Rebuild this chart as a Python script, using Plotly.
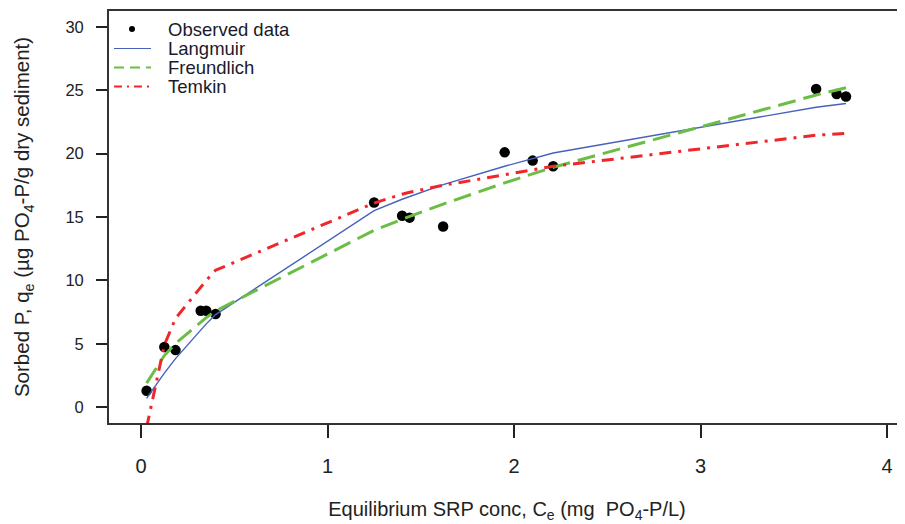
import plotly.graph_objects as go

# Observed equilibrium data
ce_obs = [0.03, 0.125, 0.185, 0.32, 0.35, 0.40, 1.25, 1.40, 1.44, 1.62, 1.95, 2.10, 2.21, 3.62, 3.73, 3.78]
qe_obs = [1.3, 4.75, 4.5, 7.6, 7.6, 7.35, 16.15, 15.1, 14.95, 14.25, 20.1, 19.45, 19.0, 25.1, 24.7, 24.5]

# Model curves evaluated at the observed concentrations
q_langmuir = [0.69, 2.69, 3.83, 6.11, 6.57, 7.30, 15.5, 16.4, 16.6, 17.55, 19.0, 19.6, 20.05, 23.66, 23.86, 23.95]
q_freundlich = [1.9, 4.07, 5.02, 6.73, 7.06, 7.59, 13.95, 14.82, 15.04, 16.02, 17.69, 18.41, 18.92, 24.62, 25.02, 25.2]
q_temkin = [-1.6, 4.9, 7.0, 9.5, 10.0, 10.8, 16.1, 16.8, 16.95, 17.5, 18.35, 18.75, 19.0, 21.45, 21.55, 21.6]

x_ticks = [0, 1, 2, 3, 4]
y_ticks = [0, 5, 10, 15, 20, 25, 30]

legend_labels = ["Observed data", "Langmuir", "Freundlich", "Temkin"]

BLUE = "#4662bd"
GREEN = "#6cbd45"
RED = "#f0262a"

fig = go.Figure()
fig.add_trace(go.Scatter(x=ce_obs, y=qe_obs, mode="markers",
                         marker=dict(color="black", size=10.5), name=legend_labels[0], showlegend=False))
fig.add_trace(go.Scatter(x=ce_obs, y=q_langmuir, mode="lines",
                         line=dict(color=BLUE, width=1.4), name=legend_labels[1], showlegend=False))
fig.add_trace(go.Scatter(x=ce_obs, y=q_freundlich, mode="lines",
                         line=dict(color=GREEN, width=3, dash="18px,8px"), name=legend_labels[2], showlegend=False))
fig.add_trace(go.Scatter(x=ce_obs, y=q_temkin, mode="lines",
                         line=dict(color=RED, width=3, dash="12px,7px,3px,7px"), name=legend_labels[3], showlegend=False))

# Page has an 8px body margin; plot area in page pixels:
OFF = 8
L, R, T, B = 109, 905, 11, 423
W, H = R - L, B - T
FIG_W, FIG_H = 905 - OFF, 524 - OFF


def px(x):
    return (x - L) / W


def py(y):
    return (B - y) / H


shapes = []
annotations = []
# legend: dot + three line samples + labels
shapes.append(dict(type="circle", xref="paper", yref="paper",
                   x0=px(129), x1=px(135), y0=py(32), y1=py(26),
                   fillcolor="black", line=dict(color="black", width=0)))
row_y = [29.5, 48.5, 67.5, 86.5]
styles = [None,
          dict(color=BLUE, width=1.2),
          dict(color=GREEN, width=2, dash="10px,6px"),
          dict(color=RED, width=1.8, dash="8px,5px,2px,5px")]
for i, lab in enumerate(legend_labels):
    if styles[i] is not None:
        shapes.append(dict(type="line", xref="paper", yref="paper",
                           x0=px(114), x1=px(151), y0=py(row_y[i]), y1=py(row_y[i]),
                           line=styles[i]))
    annotations.append(dict(text=lab, xref="paper", yref="paper",
                            x=px(166), y=py(row_y[i]), xanchor="left", yanchor="middle",
                            showarrow=False, font=dict(size=18.5, color="#1a1a2a",
                                                       family="Liberation Sans, Arial")))

NB = "\u00a0"
fig.update_layout(
    width=FIG_W, height=FIG_H,
    margin=dict(l=L - OFF, r=FIG_W - (R - OFF), t=T - OFF, b=FIG_H - (B - OFF)),
    paper_bgcolor="white", plot_bgcolor="white",
    shapes=shapes, annotations=annotations,
    showlegend=False,
    font=dict(family="Liberation Sans, Arial", color="#222222"),
    xaxis=dict(range=[-0.1716, 4.0965], tickvals=x_ticks, ticktext=[str(v) for v in x_ticks],
               automargin=False,
               showgrid=False, zeroline=False, showline=True, mirror=True,
               linecolor="#333333", linewidth=1.5,
               ticks="outside", ticklen=13, tickwidth=1.5, tickcolor="#222222",
               ticklabelstandoff=11,
               tickfont=dict(size=20),
               title=dict(text="Equilibrium SRP conc, C<sub>e</sub> (mg  PO<sub>4</sub>-P/L)",
                          font=dict(size=20), standoff=26)),
    yaxis=dict(range=[-1.25, 31.25], tickvals=y_ticks, ticktext=[str(v) + NB + NB for v in y_ticks],
               automargin=False,
               showgrid=False, zeroline=False, showline=True, mirror=False,
               linecolor="#333333", linewidth=1.5,
               ticks="outside", ticklen=11, tickwidth=1.5, tickcolor="#222222",
               tickfont=dict(size=16.5),
               title=dict(text="Sorbed P, q<sub>e</sub> (µg PO<sub>4</sub>-P/g dry sediment)",
                          font=dict(size=20.5), standoff=30)),
)

fig.write_html("out.html")
